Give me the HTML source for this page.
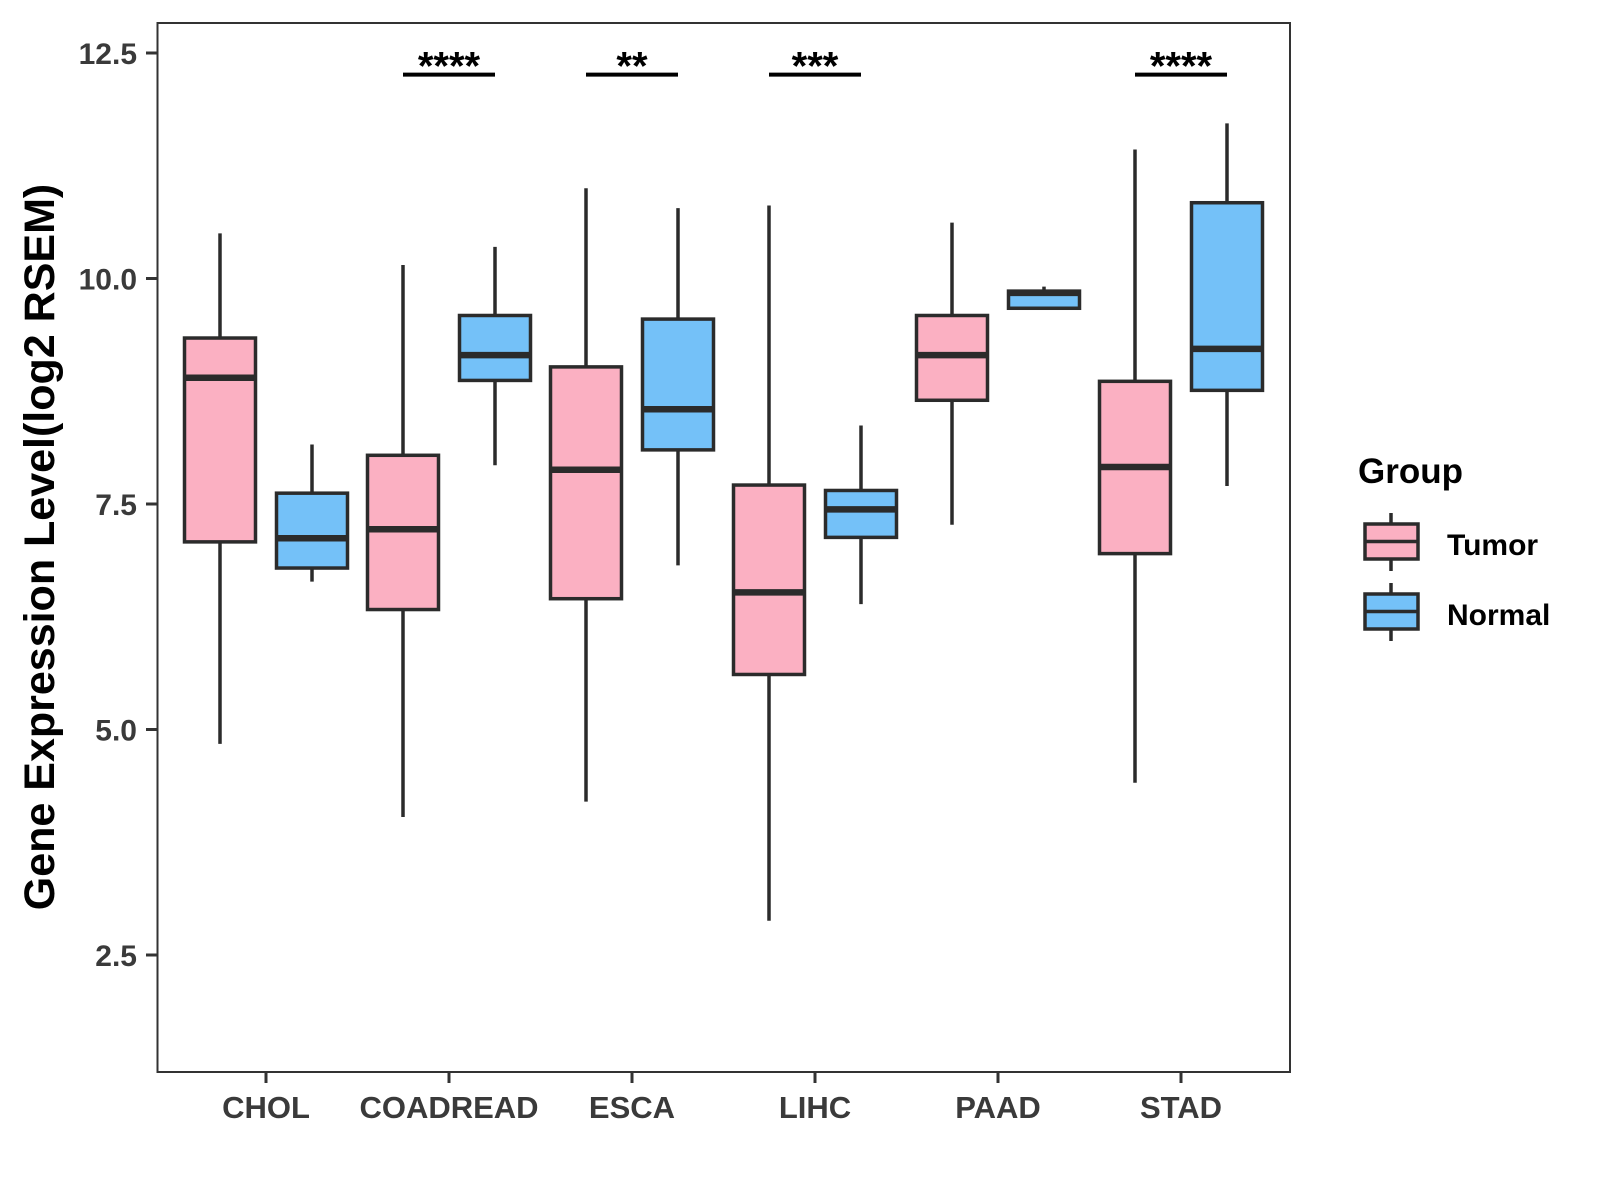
<!DOCTYPE html>
<html><head><meta charset="utf-8"><style>
html,body{margin:0;padding:0;background:#fff;}
svg{display:block;font-family:"Liberation Sans",Arial,sans-serif;}
</style></head><body>
<svg id="chart" width="1600" height="1200" viewBox="0 0 1600 1200" xmlns="http://www.w3.org/2000/svg">
<rect x="0" y="0" width="1600" height="1200" fill="#fff"/>
<g id="marks"></g>
<rect x="157.5" y="23" width="1132.5" height="1049" fill="none" stroke="#333" stroke-width="2"/>
<g id="axes"></g>
<text transform="translate(54,547) rotate(-90)" text-anchor="middle" font-size="43" font-weight="bold" fill="#000">Gene Expression Level(log2 RSEM)</text>
<g>
<text x="1358" y="483" font-size="35" font-weight="bold" fill="#000">Group</text>
<g>
<line x1="1391" y1="513" x2="1391" y2="571" stroke="#2b2b2b" stroke-width="3.5"/>
<rect x="1365" y="524" width="53" height="35" fill="#FBB0C2" stroke="#2b2b2b" stroke-width="3.5"/>
<line x1="1365" y1="541.5" x2="1418" y2="541.5" stroke="#2b2b2b" stroke-width="3.5"/>
<text x="1447" y="555" font-size="30" font-weight="bold" fill="#000">Tumor</text>
</g>
<g>
<line x1="1391" y1="583" x2="1391" y2="641" stroke="#2b2b2b" stroke-width="3.5"/>
<rect x="1365" y="594" width="53" height="35" fill="#74C1F8" stroke="#2b2b2b" stroke-width="3.5"/>
<line x1="1365" y1="611.5" x2="1418" y2="611.5" stroke="#2b2b2b" stroke-width="3.5"/>
<text x="1447" y="625" font-size="30" font-weight="bold" fill="#000">Normal</text>
</g>
</g>
</svg>
<script>
const categories = ["CHOL","COADREAD","ESCA","LIHC","PAAD","STAD"];
// [lowerWhisker, Q1, median, Q3, upperWhisker]
const tumorStats = [
  [4.84,7.08,8.90,9.34,10.50],
  [4.03,6.33,7.22,8.04,10.15],
  [4.20,6.45,7.88,9.02,11.00],
  [2.88,5.61,6.52,7.71,10.81],
  [7.27,8.65,9.15,9.59,10.62],
  [4.41,6.95,7.91,8.86,11.43]
];
const normalStats = [
  [6.64,6.79,7.12,7.62,8.16],
  [7.93,8.87,9.15,9.59,10.35],
  [6.82,8.10,8.55,9.55,10.78],
  [6.39,7.13,7.44,7.65,8.37],
  [9.67,9.67,9.84,9.86,9.91],
  [7.70,8.76,9.22,10.84,11.72]
];
const significance = ["","****","**","***","","****"];
const sigLevel = 12.26;
const yTicks = [2.5,5.0,7.5,10.0,12.5];
const yTickLabels = ["2.5","5.0","7.5","10.0","12.5"];

const NS="http://www.w3.org/2000/svg";
function yScale(v){ return 53 + (12.5 - v) * 90.2; }
function xScale(i){ return 266 + i * 183; }
const dodge = 46, boxW = 71;
const marks = document.getElementById('marks');
const axes = document.getElementById('axes');
function mk(tag, attrs, parent){
  const e=document.createElementNS(NS,tag);
  for(const k in attrs) e.setAttribute(k,attrs[k]);
  parent.appendChild(e); return e;
}
function drawBox(cx, s, fill, name){
  const g=mk('g',{},marks);
  
  
  mk('line',{x1:cx,x2:cx,y1:yScale(s[4]),y2:yScale(s[0]),stroke:'#2b2b2b','stroke-width':3.5},g);
  mk('rect',{x:cx-boxW/2,y:yScale(s[3]),width:boxW,height:yScale(s[1])-yScale(s[3]),fill:fill,stroke:'#2b2b2b','stroke-width':3.5},g);
  mk('line',{x1:cx-boxW/2,x2:cx+boxW/2,y1:yScale(s[2]),y2:yScale(s[2]),stroke:'#2b2b2b','stroke-width':6.5},g);
}
categories.forEach((c,i)=>{
  drawBox(xScale(i)-dodge, tumorStats[i], '#FBB0C2', 'box-tumor-'+c.toLowerCase());
  drawBox(xScale(i)+dodge, normalStats[i], '#74C1F8', 'box-normal-'+c.toLowerCase());
  if(significance[i]){
    const g=mk('g',{},marks);
    
    
    const y=yScale(sigLevel);
    mk('line',{x1:xScale(i)-dodge,x2:xScale(i)+dodge,y1:y,y2:y,stroke:'#000','stroke-width':4},g);
    const t=mk('text',{x:xScale(i),y:y+5,'text-anchor':'middle','font-size':40,'font-weight':'bold',fill:'#000'},g);
    t.textContent=significance[i];
  }
  const tk=mk('line',{x1:xScale(i),x2:xScale(i),y1:1072,y2:1083,stroke:'#333','stroke-width':3},axes);
  
  
  const lb=mk('text',{x:xScale(i),y:1118,'text-anchor':'middle','font-size':31,'font-weight':'bold',fill:'#3a3a3a'},axes);
  
  
  lb.textContent=c;
});
yTicks.forEach((v,i)=>{
  const tk=mk('line',{x1:146,x2:157.5,y1:yScale(v),y2:yScale(v),stroke:'#333','stroke-width':3},axes);
  
  
  const lb=mk('text',{x:137,y:yScale(v)+11,'text-anchor':'end','font-size':30,'font-weight':'bold',fill:'#3a3a3a'},axes);
  
  
  lb.textContent=yTickLabels[i];
});
</script>
</body></html>
